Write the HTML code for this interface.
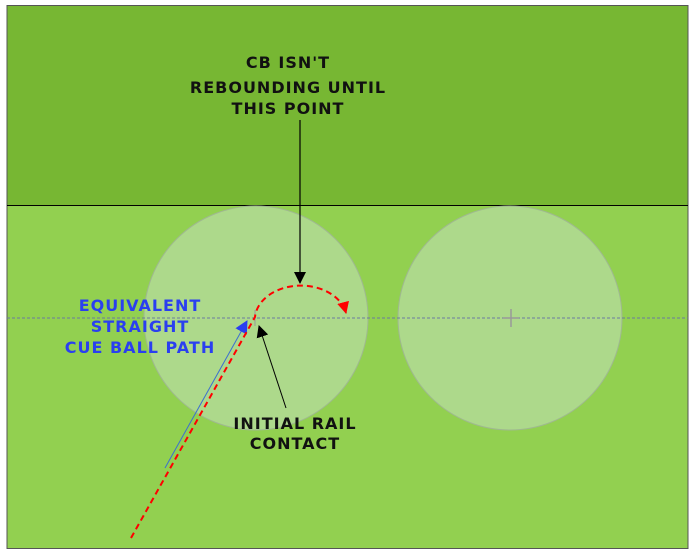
<!DOCTYPE html>
<html><head><style>body{margin:0;background:#fff;width:693px;height:554px;overflow:hidden}</style></head><body>
<svg width="693" height="554" xmlns="http://www.w3.org/2000/svg" font-family="DejaVu Sans, Liberation Sans, sans-serif" font-weight="bold" font-size="16" letter-spacing="1">
<defs>
<marker id="ab" markerWidth="12" markerHeight="12" refX="11" refY="6" orient="auto" markerUnits="userSpaceOnUse"><path d="M0,0 L12,6 L0,12 z" fill="#000"/></marker>
<marker id="ar" markerWidth="12" markerHeight="12" refX="11" refY="6" orient="auto" markerUnits="userSpaceOnUse"><path d="M0,0 L12,6 L0,12 z" fill="#f00"/></marker>
<marker id="abl" markerWidth="13" markerHeight="13" refX="12" refY="6.5" orient="auto" markerUnits="userSpaceOnUse"><path d="M0,0 L13,6.5 L0,13 z" fill="#2a3ff0"/></marker>
</defs>
<rect x="7" y="5.5" width="681" height="200" fill="#77b733" stroke="#555" stroke-width="1"/>
<rect x="7" y="205.5" width="681" height="343" fill="#92d050" stroke="#555" stroke-width="1"/>
<line x1="7" y1="205.5" x2="688" y2="205.5" stroke="#000" stroke-width="1"/>
<circle cx="256" cy="318" r="112" fill="#add98b" stroke="#9fb890" stroke-width="1"/>
<circle cx="510" cy="318" r="112" fill="#add98b" stroke="#9fb890" stroke-width="1"/>
<line x1="7" y1="318" x2="688" y2="318" stroke="#6a7aa0" stroke-width="1" stroke-dasharray="3,2"/>
<line x1="503" y1="318" x2="519" y2="318" stroke="#999" stroke-width="1.5"/>
<line x1="511" y1="309" x2="511" y2="327" stroke="#999" stroke-width="1.5"/>
<line x1="255" y1="310" x2="255" y2="326" stroke="#999" stroke-width="1"/>
<line x1="165" y1="468" x2="247" y2="321" stroke="#3b6fd0" stroke-width="1" marker-end="url(#abl)"/>
<path d="M131,538 L255,317 A46,34 0 0 1 346,313" fill="none" stroke="#f00" stroke-width="2" stroke-dasharray="6,4" marker-end="url(#ar)"/>
<line x1="300" y1="120" x2="300" y2="283" stroke="#000" stroke-width="1.2" marker-end="url(#ab)"/>
<line x1="286" y1="408" x2="259" y2="326" stroke="#000" stroke-width="1" marker-end="url(#ab)"/>
<g fill="#111" text-anchor="middle">
<text x="288" y="68">CB ISN'T</text>
<text x="288" y="93">REBOUNDING UNTIL</text>
<text x="288" y="114">THIS POINT</text>
<text x="295" y="429">INITIAL RAIL</text>
<text x="295" y="449">CONTACT</text>
</g>
<g fill="#2a3ff0" text-anchor="middle">
<text x="140" y="311">EQUIVALENT</text>
<text x="140" y="332">STRAIGHT</text>
<text x="140" y="353">CUE BALL PATH</text>
</g>
</svg>
</body></html>
